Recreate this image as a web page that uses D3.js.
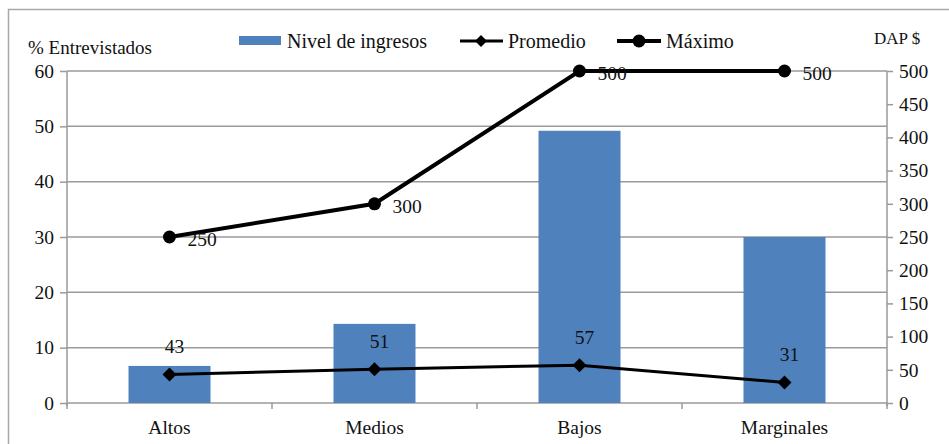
<!DOCTYPE html>
<html>
<head>
<meta charset="utf-8">
<script src="https://cdn.jsdelivr.net/npm/d3@7"></script>
<style>
  html, body { margin: 0; padding: 0; background: #fff; }
  svg { display: block; }
  svg text { font-family: "Liberation Serif", "Tinos", "Times New Roman", Times, "DejaVu Serif", serif !important; fill: #111; }
</style>
</head>
<body>
<svg id="chart" width="949" height="444"></svg>
<script>
// Income level groups
const categories = ["Altos", "Medios", "Bajos", "Marginales"];
// % of respondents per income level (left axis)
const nivelIngresos = [6.7, 14.3, 49.2, 30.0];
// Willingness to pay, $ (right axis)
const promedio = [43, 51, 57, 31];
const maximo = [250, 300, 500, 500];
// Axis ticks
const leftTicks = [0, 10, 20, 30, 40, 50, 60];
const rightTicks = [0, 50, 100, 150, 200, 250, 300, 350, 400, 450, 500];

const svg = d3.select("#chart");
const W = 949, H = 444;
const plot = { left: 67, right: 887, top: 71, bottom: 403 };
const gridColor = "#9a9a9a";
const barColor = "#4F81BD";
const fs = "19.5px";

// outer frame
svg.append("path")
  .attr("d", `M8.5,${H} V9.5 H${W}`)
  .attr("fill", "none").attr("stroke", "#a8a8a8").attr("stroke-width", 1.5);

const x = d3.scaleBand().domain(categories).range([plot.left, plot.right]).paddingInner(0.6).paddingOuter(0.3);
const xBand = d3.scaleBand().domain(categories).range([plot.left, plot.right]);
const yL = d3.scaleLinear().domain([0, 60]).range([plot.bottom, plot.top]);
const yR = d3.scaleLinear().domain([0, 500]).range([plot.bottom, plot.top]);

// horizontal gridlines
svg.append("g").selectAll("line").data(leftTicks).join("line")
  .attr("x1", plot.left).attr("x2", plot.right)
  .attr("y1", d => yL(d)).attr("y2", d => yL(d))
  .attr("stroke", gridColor).attr("stroke-width", 1.5);

// left axis
const axL = svg.append("g").attr("transform", `translate(${plot.left},0)`)
  .call(d3.axisLeft(yL).tickValues(leftTicks).tickSize(7).tickPadding(6));
axL.attr("font-family", null).attr("font-size", null);
axL.select(".domain").attr("stroke", gridColor).attr("stroke-width", 1.5).attr("d", `M-0,${plot.top}V${plot.bottom + 3}`);
axL.selectAll(".tick line").attr("stroke", gridColor).attr("stroke-width", 1.5);
axL.selectAll("text").style("font-size", fs);

// right axis
const axR = svg.append("g").attr("transform", `translate(${plot.right},0)`)
  .call(d3.axisRight(yR).tickValues(rightTicks).tickSize(6).tickPadding(6));
axR.attr("font-family", null).attr("font-size", null);
axR.select(".domain").attr("stroke", gridColor).attr("stroke-width", 1.5).attr("d", `M0,${plot.top}V${plot.bottom + 3}`);
axR.selectAll(".tick line").attr("stroke", gridColor).attr("stroke-width", 1.5);
axR.selectAll("text").style("font-size", fs);

// category axis
const boundaries = categories.map(c => xBand(c)).concat([plot.right]);
svg.append("g").selectAll("line").data(boundaries).join("line")
  .attr("x1", d => d).attr("x2", d => d)
  .attr("y1", plot.bottom).attr("y2", plot.bottom + 6)
  .attr("stroke", gridColor).attr("stroke-width", 1.5);
svg.append("g").selectAll("text").data(categories).join("text")
  .attr("x", d => xBand(d) + xBand.bandwidth() / 2)
  .attr("y", plot.bottom + 31)
  .attr("text-anchor", "middle")
  .style("font-size", fs)
  .text(d => d);

// bars
svg.append("g").selectAll("rect").data(categories).join("rect")
  .attr("x", d => x(d))
  .attr("width", x.bandwidth())
  .attr("y", (d, i) => yL(nivelIngresos[i]))
  .attr("height", (d, i) => plot.bottom - yL(nivelIngresos[i]))
  .attr("fill", barColor);

const cx = d => xBand(d) + xBand.bandwidth() / 2;

// Máximo line
svg.append("path")
  .datum(categories)
  .attr("d", d3.line().x(d => cx(d)).y((d, i) => yR(maximo[i])))
  .attr("fill", "none").attr("stroke", "#000").attr("stroke-width", 4);
svg.append("g").selectAll("circle").data(categories).join("circle")
  .attr("cx", d => cx(d)).attr("cy", (d, i) => yR(maximo[i])).attr("r", 6.5).attr("fill", "#000");
svg.append("g").selectAll("text").data(categories).join("text")
  .attr("x", d => cx(d) + 18)
  .attr("y", (d, i) => yR(maximo[i]) + 9)
  .style("font-size", fs)
  .text((d, i) => maximo[i]);

// Promedio line
svg.append("path")
  .datum(categories)
  .attr("d", d3.line().x(d => cx(d)).y((d, i) => yR(promedio[i])))
  .attr("fill", "none").attr("stroke", "#000").attr("stroke-width", 3);
svg.append("g").selectAll("path").data(categories).join("path")
  .attr("transform", (d, i) => `translate(${cx(d)},${yR(promedio[i])})`)
  .attr("d", "M0,-7L7,0L0,7L-7,0Z").attr("fill", "#000");
svg.append("g").selectAll("text").data(categories).join("text")
  .attr("x", d => cx(d) + 5)
  .attr("y", (d, i) => yR(promedio[i]) - 21)
  .attr("text-anchor", "middle")
  .style("font-size", fs)
  .text((d, i) => promedio[i]);

// axis titles
svg.append("text").attr("x", 28).attr("y", 54).style("font-size", "19px").text("% Entrevistados");
svg.append("text").attr("x", 874).attr("y", 44).style("font-size", "17px").text("DAP $");

// legend
const lg = svg.append("g");
lg.append("rect").attr("x", 239).attr("y", 36).attr("width", 42).attr("height", 9).attr("fill", barColor);
lg.append("text").attr("x", 287).attr("y", 48).style("font-size", "20px").text("Nivel de ingresos");
lg.append("line").attr("x1", 460).attr("x2", 503).attr("y1", 41).attr("y2", 41).attr("stroke", "#000").attr("stroke-width", 3);
lg.append("path").attr("transform", "translate(481,41)").attr("d", "M0,-6L6,0L0,6L-6,0Z").attr("fill", "#000");
lg.append("text").attr("x", 508).attr("y", 48).style("font-size", "20px").text("Promedio");
lg.append("line").attr("x1", 617).attr("x2", 661).attr("y1", 41).attr("y2", 41).attr("stroke", "#000").attr("stroke-width", 4);
lg.append("circle").attr("cx", 639).attr("cy", 41).attr("r", 6.5).attr("fill", "#000");
lg.append("text").attr("x", 666).attr("y", 48).style("font-size", "20px").text("Máximo");
</script>
</body>
</html>
